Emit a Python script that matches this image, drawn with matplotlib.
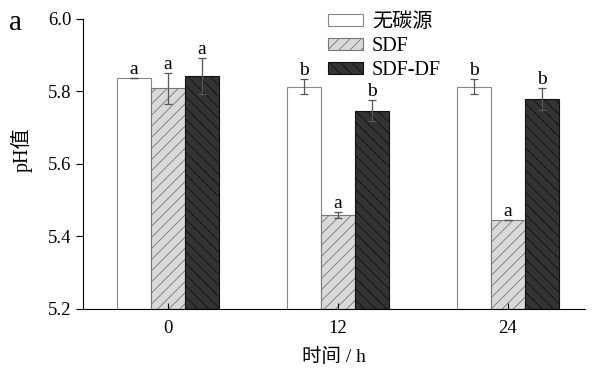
import numpy as np
import matplotlib
matplotlib.use('Agg')
import matplotlib.pyplot as plt

plt.rcParams['font.family'] = ['Liberation Serif', 'Noto Sans CJK SC']
plt.rcParams['hatch.linewidth'] = 0.6

times = ['0', '12', '24']
series = ['无碳源', 'SDF', 'SDF-DF']
ph_values = [
    [5.838, 5.813, 5.813],
    [5.808, 5.460, 5.445],
    [5.843, 5.747, 5.778],
]
ph_errors = [
    [0.0, 0.020, 0.020],
    [0.043, 0.008, 0.0],
    [0.050, 0.030, 0.030],
]
letters = [
    ['a', 'b', 'b'],
    ['a', 'a', 'a'],
    ['a', 'b', 'b'],
]

faces = ['white', '#d9d9d9', '#333333']
edges = ['#888888', '#777777', '#111111']
hatches = ['', '///', '\\\\\\']

fig = plt.figure(figsize=(5.93, 3.70), dpi=100)
ax = fig.add_axes([0.14, 0.165, 0.846, 0.784])

x = np.arange(len(times))
w = 0.2
for i, name in enumerate(series):
    xi = x + (i - 1) * w
    ax.bar(xi, np.array(ph_values[i]) - 5.2, w, bottom=5.2, color=faces[i],
           edgecolor=edges[i], hatch=hatches[i], linewidth=0.8, label=name)
    ax.errorbar(xi, ph_values[i], yerr=ph_errors[i], fmt='none',
                ecolor='#555555', elinewidth=0.9, capsize=3, capthick=0.9)
    for xx, v, e, t in zip(xi, ph_values[i], ph_errors[i], letters[i]):
        ax.text(xx, v + e, t, ha='center', va='bottom', fontsize=14)

ax.set_ylim(5.2, 6.0)
ax.set_xlim(-0.5, 2.453)
ax.set_yticks([5.2, 5.4, 5.6, 5.8, 6.0])
ax.set_xticks(x)
ax.set_xticklabels(times)
ax.tick_params(axis='y', direction='out', length=5, labelsize=13.5)
ax.tick_params(axis='x', direction='in', length=4, labelsize=13.5, pad=8)
ax.spines['top'].set_visible(False)
ax.spines['right'].set_visible(False)

ax.set_xlabel('时间 / h', fontsize=14, labelpad=8)
ax.set_ylabel('pH值', fontsize=14.5)
ax.yaxis.set_label_coords(-0.1, 0.55)

fig.text(0.015, 0.92, 'a', fontsize=21)

ax.legend(loc='upper left', bbox_to_anchor=(0.522, 1.013), bbox_transform=fig.transFigure,
          frameon=False, fontsize=14.5, handlelength=1.75, handleheight=0.55,
          labelspacing=0.25, handletextpad=0.45)

fig.savefig('out.png', dpi=100)
